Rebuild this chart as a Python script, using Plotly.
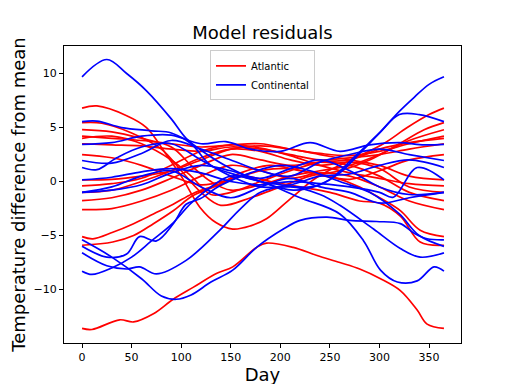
import plotly.graph_objects as go

# knot days and values, per station residual curve
atlantic = [
    ([0, 15, 45, 65, 85, 100, 119, 135, 152, 170, 186, 210, 237, 270, 304, 328, 350, 365],
     [6.8, 7.0, 6.1, 5.0, 2.5, 0.5, -2.4, -3.8, -4.4, -4.1, -3.45, -1.6, 0.4, 1.95, 3.5, 5.0, 6.2, 6.8]),
    ([0, 20, 50, 80, 100, 120, 140, 170, 200, 230, 260, 290, 320, 345, 365],
     [5.45, 5.4, 4.5, 3.0, 1.0, -1.0, -2.2, -1.5, -0.5, 0.5, 1.0, 2.0, 3.5, 4.8, 5.45]),
    ([0, 30, 60, 90, 110, 130, 150, 180, 210, 240, 270, 300, 330, 365],
     [4.8, 4.6, 4.0, 3.2, 1.5, 0.0, -0.8, -0.3, 0.5, 1.0, 1.5, 2.5, 3.8, 4.8]),
    ([0, 30, 60, 90, 110, 130, 150, 180, 210, 240, 270, 300, 330, 365],
     [4.0, 4.2, 3.5, 2.0, 0.5, -1.2, -1.0, 0.0, 1.0, 1.8, 2.0, 3.0, 3.6, 4.0]),
    ([0, 30, 60, 90, 120, 150, 180, 210, 240, 270, 300, 330, 365],
     [3.5, 3.4, 3.3, 3.0, 2.8, 3.2, 3.0, 2.5, 2.0, 2.2, 2.5, 3.0, 3.5]),
    ([0, 30, 60, 90, 120, 150, 180, 210, 240, 270, 300, 330, 365],
     [2.5, 2.2, 1.5, 0.5, -0.3, 0.2, 1.0, 1.2, 0.6, 0.2, 1.0, 2.0, 2.5]),
    ([0, 30, 60, 90, 120, 150, 180, 210, 240, 270, 300, 330, 365],
     [0.15, 0.2, 0.5, 1.0, 2.0, 3.0, 3.3, 3.0, 2.5, 2.0, 1.5, 0.5, 0.15]),
    ([0, 30, 60, 90, 120, 150, 180, 210, 240, 270, 300, 330, 365],
     [-0.4, -0.2, 0.3, 1.5, 2.8, 3.4, 3.1, 2.4, 1.5, 0.8, 0.3, -0.2, -0.4]),
    ([0, 30, 60, 90, 120, 150, 180, 210, 240, 270, 300, 330, 365],
     [-1.0, -0.8, 0.0, 1.0, 2.2, 3.0, 2.8, 2.0, 1.5, 1.8, 1.2, -0.5, -1.0]),
    ([0, 30, 60, 90, 120, 150, 180, 210, 240, 270, 300, 330, 365],
     [-1.76, -1.5, -0.8, 0.3, 1.5, 2.5, 2.0, 1.5, 1.8, 1.5, 0.5, -1.0, -1.76]),
    ([0, 30, 60, 90, 120, 150, 180, 210, 240, 270, 300, 330, 365],
     [-2.6, -2.5, -1.8, -0.8, 0.5, 1.5, 1.0, 0.3, 0.8, 0.5, -0.5, -1.8, -2.6]),
    ([0, 11, 31, 52, 72, 92, 112, 139, 160, 190, 220, 250, 280, 300, 321, 341, 365],
     [-5.1, -5.3, -4.7, -3.9, -3.0, -2.1, -1.1, -0.2, 0.8, 1.5, 1.0, 0.5, -0.5, -1.5, -2.7, -4.5, -5.1]),
    ([0, 31, 52, 72, 92, 112, 139, 160, 190, 220, 250, 280, 300, 321, 341, 365],
     [-5.9, -5.6, -5.0, -3.9, -2.7, -1.3, -0.3, 0.5, 0.0, -0.5, -1.0, -1.8, -2.0, -3.2, -5.6, -5.9]),
    ([0, 30, 60, 90, 120, 150, 180, 210, 240, 270, 300, 330, 365],
     [4.2, 4.0, 3.8, 3.5, 3.2, 3.4, 3.5, 3.0, 2.6, 2.4, 2.8, 3.5, 4.2]),
    ([0, 10, 38, 52, 72, 92, 112, 136, 152, 176, 186, 213, 237, 260, 280, 301, 321, 338, 348, 365],
     [-13.6, -13.7, -12.8, -13.0, -12.25, -10.9, -9.8, -8.5, -7.9, -6.1, -5.7, -6.1, -6.85, -7.5, -8.1, -9.0, -10.1, -11.9, -13.2, -13.6]),
]

continental = [
    ([0, 25, 45, 65, 90, 105, 120, 150, 180, 213, 240, 260, 280, 300, 320, 335, 350, 365],
     [9.7, 11.3, 10.0, 8.4, 5.8, 4.0, 2.9, 1.2, 0.0, -0.8, -0.3, 0.8, 2.6, 4.5, 6.5, 7.8, 9.0, 9.7]),
    ([0, 15, 40, 70, 90, 110, 130, 160, 180, 200, 230, 250, 275, 300, 320, 340, 365],
     [5.55, 5.6, 5.0, 4.7, 4.5, 3.5, 1.5, 0.5, 0.0, -0.3, -0.5, 0.2, 2.3, 4.5, 6.2, 6.2, 5.55]),
    ([0, 30, 60, 90, 120, 145, 170, 200, 230, 260, 290, 320, 345, 365],
     [3.45, 3.6, 4.2, 4.3, 3.5, 3.7, 3.0, 2.8, 3.6, 2.8, 3.4, 3.6, 3.4, 3.45]),
    ([0, 30, 60, 90, 120, 150, 180, 210, 240, 270, 300, 330, 365],
     [1.95, 1.7, 2.6, 3.8, 3.0, 2.0, 1.0, 0.5, 1.8, 2.5, 3.0, 2.5, 1.95]),
    ([0, 15, 35, 60, 90, 120, 150, 180, 210, 240, 270, 300, 330, 365],
     [1.3, 1.1, 2.2, 3.2, 3.5, 2.0, 0.5, -0.5, -0.3, 0.5, 0.7, 1.5, 2.0, 1.3]),
    ([0, 30, 60, 90, 120, 150, 180, 210, 240, 270, 300, 314, 338, 365],
     [0.15, 0.4, 0.9, 1.2, 0.8, 0.0, -0.3, 0.0, -0.2, -0.5, -1.0, -1.45, 1.3, 0.15]),
    ([0, 30, 60, 90, 120, 150, 180, 210, 240, 270, 300, 330, 365],
     [-1.0, -0.5, 0.5, 1.0, -0.5, -1.5, -0.5, 0.3, -0.5, -1.0, -2.0, -1.5, -1.0]),
    ([0, 30, 60, 80, 95, 110, 130, 152, 176, 203, 220, 247, 270, 297, 321, 335, 348, 365],
     [-5.4, -7.0, -9.0, -10.6, -10.9, -10.5, -9.3, -8.2, -6.1, -4.4, -3.6, -3.3, -3.6, -3.7, -3.9, -4.8, -5.3, -5.4]),
    ([0, 25, 45, 58, 75, 92, 105, 119, 139, 170, 200, 230, 260, 290, 320, 340, 365],
     [-6.0, -7.0, -6.7, -5.1, -5.5, -3.9, -2.1, -1.6, -0.4, 0.8, 1.5, 1.0, 0.0, -1.0, -3.0, -5.0, -6.0]),
    ([0, 25, 45, 58, 75, 105, 139, 160, 180, 210, 240, 260, 294, 321, 341, 365],
     [-6.6, -7.8, -8.1, -7.9, -8.55, -7.3, -4.5, -2.5, -1.0, -0.5, -1.2, -2.2, -4.4, -6.2, -7.0, -6.6]),
    ([0, 10, 30, 50, 70, 90, 110, 130, 150, 180, 220, 260, 284, 301, 318, 338, 355, 365],
     [-8.3, -8.6, -8.0, -7.0, -5.5, -4.0, -2.0, -0.5, 0.5, 0.0, -1.5, -3.0, -5.5, -8.2, -9.3, -9.2, -7.9, -8.3]),
    ([0, 30, 60, 90, 120, 150, 180, 210, 240, 270, 300, 330, 365],
     [-1.0, -0.8, -0.3, 0.8, 1.5, 1.0, 0.3, 1.2, 2.0, 1.0, -0.5, -1.2, -1.0]),
]

x_ticks = [0, 50, 100, 150, 200, 250, 300, 350]
y_ticks = [-10, -5, 0, 5, 10]

fig = go.Figure()
for name, color, group in [("Atlantic", "#ff0000", atlantic), ("Continental", "#0000ff", continental)]:
    for i, (d, v) in enumerate(group):
        fig.add_trace(go.Scatter(
            x=d, y=v, mode="lines", name=name, legendgroup=name,
            showlegend=(i == 0),
            line=dict(color=color, width=1.7, shape="spline", smoothing=1.0),
            hoverinfo="skip",
        ))

axis_common = dict(
    showline=True, linecolor="black", linewidth=1, mirror=True,
    ticks="outside", ticklen=4, tickwidth=1, tickcolor="black",
    showgrid=False, zeroline=False, automargin=False,
    tickfont=dict(size=11, color="black"),
)

# the page body adds an 8px offset, so margins are shifted to compensate
fig.update_layout(
    width=512, height=384,
    margin=dict(l=56, r=59, t=38, b=49),
    paper_bgcolor="white", plot_bgcolor="white",
    font=dict(family="DejaVu Sans", color="black"),
    title=dict(text="Model residuals", x=0.5, xref="paper", xanchor="center",
               y=1 - 25 / 384, yanchor="middle", yref="container",
               font=dict(size=18, color="black")),
    xaxis=dict(range=[-18.2, 382.2], tickvals=x_ticks,
               title=dict(text="Day", font=dict(size=18), standoff=4), **axis_common),
    yaxis=dict(range=[-14.95, 12.55], tickvals=y_ticks,
               title=dict(text="Temperature difference from mean", font=dict(size=18), standoff=6),
               **axis_common),
    legend=dict(x=0.5, xanchor="center", y=0.985, yanchor="top",
                bgcolor="rgba(255,255,255,0.8)", bordercolor="#cccccc", borderwidth=1,
                font=dict(size=10), tracegroupgap=0, itemwidth=30),
    showlegend=True,
)

fig.write_html("out.html")
